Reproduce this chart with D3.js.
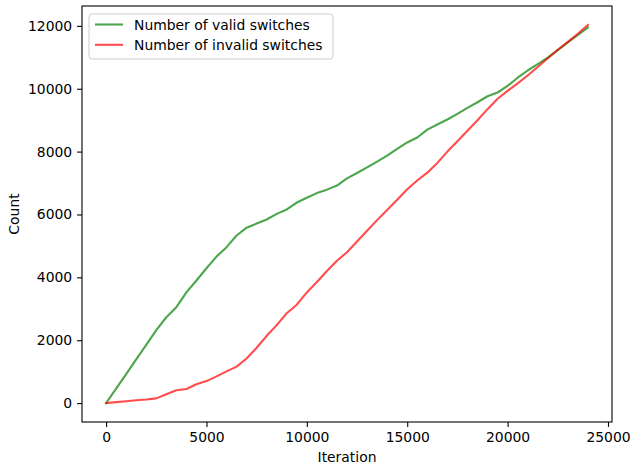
<!DOCTYPE html>
<html>
<head>
<meta charset="utf-8">
<script src="https://cdn.jsdelivr.net/npm/d3@7/dist/d3.min.js"></script>
<style>
  html, body { margin: 0; padding: 0; background: #fff; }
  svg { display: block; font-family: "DejaVu Sans", sans-serif; }
</style>
</head>
<body>
<svg id="chart" width="633" height="464"></svg>
<script>
// Iteration checkpoints
const iterations = [0, 500, 1000, 1500, 2000, 2500, 3000, 3500, 4000, 4500, 5000, 5500, 6000, 6500, 7000, 7500, 8000, 8500, 9000, 9500, 10000, 10500, 11000, 11500, 12000, 12500, 13000, 13500, 14000, 14500, 15000, 15500, 16000, 16500, 17000, 17500, 18000, 18500, 19000, 19500, 20000, 20500, 21000, 21500, 22000, 22500, 23000, 23500, 24000];

// Cumulative number of valid switches
const validSwitches = [0, 460, 920, 1390, 1850, 2320, 2730, 3050, 3520, 3900, 4290, 4660, 4960, 5330, 5580, 5710, 5840, 6020, 6160, 6380, 6530, 6680, 6790, 6920, 7150, 7320, 7500, 7680, 7870, 8090, 8290, 8450, 8700, 8860, 9020, 9200, 9390, 9570, 9760, 9880, 10090, 10350, 10580, 10780, 10990, 11230, 11470, 11710, 11950];

// Cumulative number of invalid switches
const invalidSwitches = [0, 30, 60, 90, 115, 150, 280, 410, 450, 600, 700, 850, 1010, 1160, 1420, 1760, 2140, 2480, 2860, 3130, 3520, 3850, 4200, 4530, 4800, 5140, 5480, 5820, 6140, 6470, 6800, 7080, 7330, 7640, 8000, 8330, 8660, 9000, 9350, 9680, 9930, 10170, 10420, 10690, 10970, 11240, 11490, 11750, 12030];

const xTicks = [0, 5000, 10000, 15000, 20000, 25000];
const yTicks = [0, 2000, 4000, 6000, 8000, 10000, 12000];

const seriesNames = ["Number of valid switches", "Number of invalid switches"];
const seriesColors = ["rgb(0,128,0)", "rgb(255,0,0)"];

const margin = { left: 82, right: 21, top: 6, bottom: 42 };
const W = 633, H = 464;
const svg = d3.select("#chart");

const xMin = d3.min(iterations), xMax = d3.max(iterations);
const xPad = (xMax - xMin) * 0.05;
const allY = validSwitches.concat(invalidSwitches);
const yMin = d3.min(allY), yMax = d3.max(allY);
const yPad = (yMax - yMin) * 0.05;

const x = d3.scaleLinear().domain([xMin - xPad, xMax + xPad]).range([margin.left, W - margin.right]);
const y = d3.scaleLinear().domain([yMin - yPad, yMax + yPad]).range([H - margin.bottom, margin.top]);

const fontSize = 13.9;

// x axis
const xAxis = svg.append("g")
  .attr("transform", `translate(0,${H - margin.bottom})`)
  .call(d3.axisBottom(x).tickValues(xTicks).tickFormat(d3.format("d")).tickSize(4.9).tickPadding(4.9));
// y axis
const yAxis = svg.append("g")
  .attr("transform", `translate(${margin.left},0)`)
  .call(d3.axisLeft(y).tickValues(yTicks).tickFormat(d3.format("d")).tickSize(4.9).tickPadding(4.9));

[xAxis, yAxis].forEach(a => {
  a.select(".domain").remove();
  a.selectAll(".tick line").attr("stroke", "#000").attr("stroke-width", 1.1);
  a.selectAll(".tick text").attr("fill", "#000").style("font-size", fontSize + "px")
    .style("font-family", "'DejaVu Sans', sans-serif");
});

// series lines
const line = d3.line().x((d, i) => x(iterations[i])).y(d => y(d));
[validSwitches, invalidSwitches].forEach((vals, k) => {
  svg.append("path")
    .datum(vals)
    .attr("d", line)
    .attr("fill", "none")
    .attr("stroke", seriesColors[k])
    .attr("stroke-opacity", 0.7)
    .attr("stroke-width", 2.1)
    .attr("stroke-linejoin", "round")
    .attr("stroke-linecap", "square");
});

// frame
svg.append("rect")
  .attr("x", margin.left).attr("y", margin.top)
  .attr("width", W - margin.left - margin.right)
  .attr("height", H - margin.top - margin.bottom)
  .attr("fill", "none").attr("stroke", "#000").attr("stroke-width", 1.1);

// axis titles
svg.append("text")
  .attr("x", (margin.left + W - margin.right) / 2).attr("y", 462)
  .attr("text-anchor", "middle").style("font-size", fontSize + "px").text("Iteration");
svg.append("text")
  .attr("transform", `translate(19,${(margin.top + H - margin.bottom) / 2}) rotate(-90)`)
  .attr("text-anchor", "middle").style("font-size", fontSize + "px").text("Count");

// legend
const lg = svg.append("g").attr("transform", "translate(89,14)");
lg.append("rect")
  .attr("width", 244).attr("height", 45).attr("rx", 3).attr("ry", 3)
  .attr("fill", "#fff").attr("fill-opacity", 0.8)
  .attr("stroke", "#ccc").attr("stroke-width", 1);
seriesNames.forEach((name, k) => {
  const cy = 10.5 + k * 20.3;
  lg.append("line")
    .attr("x1", 6).attr("x2", 34).attr("y1", cy).attr("y2", cy)
    .attr("stroke", seriesColors[k]).attr("stroke-opacity", 0.7).attr("stroke-width", 2.1);
  lg.append("text")
    .attr("x", 45).attr("y", cy + 5).style("font-size", fontSize + "px").text(name);
});
</script>
</body>
</html>
